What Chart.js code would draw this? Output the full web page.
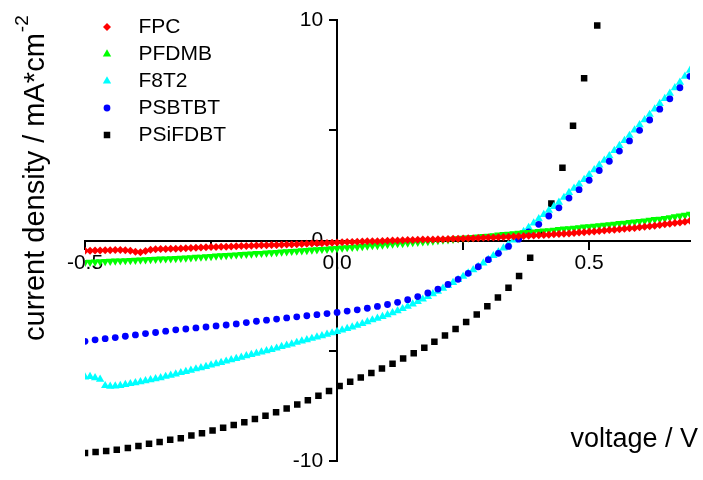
<!DOCTYPE html>
<html>
<head>
<meta charset="utf-8">
<title>J-V curves</title>
<script src="https://cdn.jsdelivr.net/npm/chart.js@4.4.1/dist/chart.umd.min.js"></script>
<style>
  html, body { margin: 0; padding: 0; background: #ffffff; }
  #wrap { width: 703px; height: 480px; }
</style>
</head>
<body>
<div id="wrap"><canvas id="jv" width="703" height="480"></canvas></div>
<script>
// ---- series names ----
const seriesNames = ['FPC', 'PFDMB', 'F8T2', 'PSBTBT', 'PSiFDBT'];

// ---- voltage sweeps (V) ----
const voltageFine = [
  -0.50, -0.49, -0.48, -0.47, -0.46, -0.45, -0.44, -0.43, -0.42, -0.41,
  -0.40, -0.39, -0.38, -0.37, -0.36, -0.35, -0.34, -0.33, -0.32, -0.31,
  -0.30, -0.29, -0.28, -0.27, -0.26, -0.25, -0.24, -0.23, -0.22, -0.21,
  -0.20, -0.19, -0.18, -0.17, -0.16, -0.15, -0.14, -0.13, -0.12, -0.11,
  -0.10, -0.09, -0.08, -0.07, -0.06, -0.05, -0.04, -0.03, -0.02, -0.01,
  0.00, 0.01, 0.02, 0.03, 0.04, 0.05, 0.06, 0.07, 0.08, 0.09,
  0.10, 0.11, 0.12, 0.13, 0.14, 0.15, 0.16, 0.17, 0.18, 0.19,
  0.20, 0.21, 0.22, 0.23, 0.24, 0.25, 0.26, 0.27, 0.28, 0.29,
  0.30, 0.31, 0.32, 0.33, 0.34, 0.35, 0.36, 0.37, 0.38, 0.39,
  0.40, 0.41, 0.42, 0.43, 0.44, 0.45, 0.46, 0.47, 0.48, 0.49,
  0.50, 0.51, 0.52, 0.53, 0.54, 0.55, 0.56, 0.57, 0.58, 0.59,
  0.60, 0.61, 0.62, 0.63, 0.64, 0.65, 0.66, 0.67, 0.68, 0.69,
  0.70
];
const voltageCoarse = [
  -0.50, -0.48, -0.46, -0.44, -0.42, -0.40, -0.38, -0.36, -0.34, -0.32,
  -0.30, -0.28, -0.26, -0.24, -0.22, -0.20, -0.18, -0.16, -0.14, -0.12,
  -0.10, -0.08, -0.06, -0.04, -0.02, 0.00, 0.02, 0.04, 0.06, 0.08,
  0.10, 0.12, 0.14, 0.16, 0.18, 0.20, 0.22, 0.24, 0.26, 0.28,
  0.30, 0.32, 0.34, 0.36, 0.38, 0.40, 0.42, 0.44, 0.46, 0.48,
  0.50, 0.52, 0.54, 0.56, 0.58, 0.60, 0.62, 0.64, 0.66, 0.68,
  0.70
];
const voltageSiF = [
  -0.500, -0.479, -0.458, -0.437, -0.415, -0.394, -0.373, -0.352, -0.331, -0.310,
  -0.289, -0.268, -0.247, -0.226, -0.205, -0.184, -0.163, -0.142, -0.121, -0.100,
  -0.079, -0.058, -0.037, -0.016, 0.005, 0.026, 0.047, 0.068, 0.089, 0.110,
  0.131, 0.152, 0.173, 0.193, 0.214, 0.235, 0.256, 0.277, 0.298, 0.319,
  0.340, 0.361, 0.383, 0.404, 0.425, 0.447, 0.468, 0.490, 0.516
];

// ---- current densities (mA/cm^2) ----
const currentFPC = [
  -0.45, -0.45, -0.44, -0.44, -0.43, -0.43, -0.42, -0.42, -0.43, -0.46,
  -0.50, -0.52, -0.47, -0.41, -0.39, -0.38, -0.38, -0.37, -0.36, -0.35,
  -0.34, -0.33, -0.32, -0.31, -0.30, -0.29, -0.28, -0.27, -0.27, -0.26,
  -0.25, -0.24, -0.24, -0.23, -0.22, -0.21, -0.21, -0.20, -0.19, -0.18,
  -0.17, -0.17, -0.16, -0.15, -0.14, -0.13, -0.12, -0.11, -0.10, -0.09,
  -0.08, -0.07, -0.06, -0.06, -0.05, -0.04, -0.03, -0.02, -0.02, -0.01,
  0.00, 0.01, 0.01, 0.02, 0.03, 0.03, 0.04, 0.05, 0.05, 0.06,
  0.07, 0.07, 0.08, 0.09, 0.09, 0.10, 0.11, 0.11, 0.12, 0.13,
  0.14, 0.15, 0.16, 0.17, 0.18, 0.19, 0.20, 0.21, 0.22, 0.23,
  0.25, 0.26, 0.27, 0.29, 0.30, 0.32, 0.33, 0.35, 0.37, 0.38,
  0.40, 0.42, 0.44, 0.46, 0.48, 0.50, 0.52, 0.54, 0.56, 0.58,
  0.61, 0.63, 0.66, 0.68, 0.71, 0.74, 0.77, 0.80, 0.83, 0.86,
  0.90
];
const currentPFDMB = [
  -0.98, -0.97, -0.96, -0.95, -0.94, -0.93, -0.92, -0.91, -0.90, -0.89,
  -0.88, -0.87, -0.86, -0.85, -0.84, -0.83, -0.82, -0.81, -0.80, -0.79,
  -0.78, -0.77, -0.75, -0.74, -0.72, -0.71, -0.69, -0.68, -0.67, -0.65,
  -0.64, -0.62, -0.61, -0.60, -0.58, -0.57, -0.55, -0.54, -0.53, -0.51,
  -0.50, -0.48, -0.47, -0.45, -0.44, -0.42, -0.41, -0.39, -0.38, -0.36,
  -0.35, -0.33, -0.31, -0.30, -0.28, -0.26, -0.24, -0.22, -0.21, -0.19,
  -0.17, -0.15, -0.13, -0.12, -0.10, -0.08, -0.07, -0.05, -0.03, -0.01,
  0.01, 0.03, 0.05, 0.07, 0.09, 0.11, 0.13, 0.15, 0.17, 0.19,
  0.21, 0.23, 0.26, 0.28, 0.30, 0.32, 0.34, 0.36, 0.38, 0.40,
  0.42, 0.44, 0.46, 0.48, 0.51, 0.53, 0.55, 0.57, 0.59, 0.62,
  0.64, 0.66, 0.68, 0.71, 0.73, 0.75, 0.78, 0.80, 0.83, 0.85,
  0.88, 0.90, 0.93, 0.96, 0.98, 1.01, 1.05, 1.09, 1.12, 1.16,
  1.20
];
const currentF8T2 = [
  -6.18, -6.16, -6.21, -6.28, -6.57, -6.60, -6.59, -6.56, -6.52, -6.48,
  -6.44, -6.39, -6.35, -6.30, -6.26, -6.21, -6.15, -6.10, -6.04, -5.98,
  -5.93, -5.87, -5.81, -5.76, -5.70, -5.64, -5.58, -5.52, -5.46, -5.40,
  -5.34, -5.28, -5.22, -5.16, -5.10, -5.05, -4.99, -4.93, -4.87, -4.80,
  -4.74, -4.68, -4.61, -4.55, -4.49, -4.43, -4.37, -4.31, -4.24, -4.18,
  -4.12, -4.05, -3.98, -3.91, -3.84, -3.76, -3.68, -3.59, -3.52, -3.44,
  -3.36, -3.27, -3.18, -3.08, -2.98, -2.87, -2.76, -2.65, -2.53, -2.41,
  -2.29, -2.16, -2.03, -1.90, -1.76, -1.62, -1.47, -1.32, -1.17, -1.01,
  -0.85, -0.68, -0.51, -0.33, -0.15, 0.03, 0.22, 0.41, 0.60, 0.80,
  0.99, 1.18, 1.37, 1.55, 1.74, 1.96, 2.18, 2.37, 2.56, 2.77,
  2.99, 3.21, 3.43, 3.64, 3.85, 4.08, 4.31, 4.54, 4.77, 5.01,
  5.25, 5.48, 5.72, 5.96, 6.21, 6.44, 6.68, 6.93, 7.18, 7.45,
  7.72
];
const currentPSBTBT = [
  -4.56, -4.49, -4.44, -4.39, -4.33, -4.27, -4.21, -4.16, -4.10, -4.04,
  -4.00, -3.95, -3.91, -3.86, -3.82, -3.77, -3.71, -3.65, -3.60, -3.55,
  -3.50, -3.45, -3.40, -3.35, -3.30, -3.25, -3.19, -3.13, -3.06, -2.98,
  -2.89, -2.79, -2.67, -2.53, -2.37, -2.19, -1.98, -1.75, -1.48, -1.18,
  -0.86, -0.57, -0.26, 0.07, 0.40, 0.74, 1.12, 1.49, 1.93, 2.31,
  2.74, 3.18, 3.60, 4.06, 4.52, 5.00, 5.47, 5.96, 6.43, 6.93,
  7.45
];
const currentPSiFDBT = [
  -9.62, -9.57, -9.53, -9.47, -9.39, -9.30, -9.20, -9.12, -9.02, -8.95,
  -8.83, -8.72, -8.60, -8.48, -8.35, -8.23, -8.08, -7.93, -7.77, -7.60,
  -7.42, -7.23, -7.03, -6.81, -6.58, -6.39, -6.20, -6.00, -5.79, -5.57,
  -5.34, -5.10, -4.85, -4.58, -4.30, -4.00, -3.68, -3.34, -2.97, -2.57,
  -2.13, -1.60, -0.77, 0.37, 1.68, 3.30, 5.21, 7.36, 9.75
];

// ---- axes ----
const xTickValues = [-0.5, -0.25, 0, 0.25, 0.5];
const xTickLabels = ['-0.5', '', '0.0', '', '0.5'];
const yTickValues = [-10, -5, 0, 5, 10];
const yTickLabels = ['-10', '', '0', '', '10'];
const xTitle = 'voltage / V';
const yTitle = 'current density / mA*cm';
const yTitleSup = '-2';

// ---- marker styling ----
const seriesColors = ['#ff0000', '#00ff00', '#00ffff', '#0000ff', '#000000'];
const seriesMarkers = ['rectRot', 'triangle', 'triangle', 'circle', 'rect'];
const seriesRotation = [0, 180, 0, 0, 0];
const seriesRadius = [4.0, 4.8, 4.8, 3.4, 4.6];
const seriesOrder = [0, 1, 3, 2, 4]; // lower value is painted on top

const FONT = "'Liberation Sans', Arial, Helvetica, sans-serif";

const seriesX = [voltageFine, voltageFine, voltageFine, voltageCoarse, voltageSiF];
const seriesY = [currentFPC, currentPFDMB, currentF8T2, currentPSBTBT, currentPSiFDBT];

const toPoints = (xs, ys) => xs.map((x, i) => ({ x: x, y: ys[i] }));

const datasets = seriesNames.map((name, i) => ({
  label: name,
  data: toPoints(seriesX[i], seriesY[i]),
  showLine: false,
  pointStyle: seriesMarkers[i],
  pointRotation: seriesRotation[i],
  pointRadius: seriesRadius[i],
  pointHoverRadius: seriesRadius[i],
  pointBorderWidth: 0,
  backgroundColor: seriesColors[i],
  borderColor: seriesColors[i],
  order: seriesOrder[i]
}));

// Small canvases carrying each legend symbol, so the swatch keeps its shape
// while the legend row reserves a wider slot before the text.
function makeLegendSymbol(i) {
  const c = document.createElement('canvas');
  c.width = 16; c.height = 16;
  const g = c.getContext('2d');
  g.fillStyle = seriesColors[i];
  g.strokeStyle = seriesColors[i];
  Chart.helpers.drawPoint(g, {
    pointStyle: seriesMarkers[i],
    rotation: seriesRotation[i],
    radius: seriesRadius[i],
    borderWidth: 0
  }, 8, 8);
  return c;
}
const legendSymbols = seriesNames.map((_, i) => makeLegendSymbol(i));

// Legend sits in the upper-left corner of the plot.
const legendCorner = {
  id: 'legendCorner',
  afterLayout(chart) {
    const lg = chart.legend;
    if (!lg) return;
    lg.left = 80;
    lg.top = 10.5;
    lg.right = 320;
    lg.bottom = 300;
  }
};

// Value labels of the vertical axis sit to the left of its tick marks.
const yLabelsLeftOfTicks = {
  id: 'yLabelsLeftOfTicks',
  beforeDraw(chart) {
    const scale = chart.scales.y;
    const items = scale.getLabelItems(chart.chartArea);
    items.forEach(it => { it.options.translation[0] -= 14; });
  }
};

// Axis titles: x title bottom-right, y title rotated along the left edge.
const axisTitles = {
  id: 'axisTitles',
  afterDraw(chart) {
    const ctx = chart.ctx;
    ctx.save();
    ctx.fillStyle = '#000000';
    ctx.font = '27px ' + FONT;
    ctx.textAlign = 'right';
    ctx.textBaseline = 'alphabetic';
    ctx.fillText(xTitle, 698, 447);

    ctx.translate(44, 341);
    ctx.rotate(-Math.PI / 2);
    ctx.textAlign = 'left';
    ctx.font = '29px ' + FONT;
    ctx.fillText(yTitle, 0, 0);
    const w = ctx.measureText(yTitle).width;
    ctx.font = '19px ' + FONT;
    ctx.fillText(yTitleSup, w + 1, -16);
    ctx.restore();
  }
};

new Chart(document.getElementById('jv'), {
  type: 'scatter',
  data: { datasets: datasets },
  options: {
    responsive: false,
    animation: false,
    devicePixelRatio: 1,
    layout: { padding: { left: 85, right: 13, top: 20, bottom: 14 } },
    plugins: {
      tooltip: { enabled: false },
      title: { display: false },
      legend: {
        display: true,
        position: 'chartArea',
        align: 'start',
        labels: {
          usePointStyle: true,
          pointStyleWidth: 42,
          boxHeight: 8,
          padding: 6,
          color: '#000000',
          font: { family: FONT, size: 21 },
          sort: (a, b) => a.datasetIndex - b.datasetIndex,
          generateLabels(chart) {
            const items = Chart.defaults.plugins.legend.labels.generateLabels(chart);
            items.forEach(it => {
              it.pointStyle = legendSymbols[it.datasetIndex];
              it.lineWidth = 0;
            });
            return items;
          }
        }
      }
    },
    scales: {
      x: {
        type: 'linear',
        min: -0.5,
        max: 0.7,
        position: { y: 0 },
        afterBuildTicks(scale) { scale.ticks = xTickValues.map(v => ({ value: v })); },
        border: { display: true, color: '#000000', width: 2 },
        grid: { drawOnChartArea: false, drawTicks: true, tickLength: 8, color: '#000000', lineWidth: 2 },
        ticks: {
          color: '#000000',
          font: { family: FONT, size: 21 },
          padding: 2,
          maxRotation: 0,
          autoSkip: false,
          callback: (v, i) => xTickLabels[i]
        }
      },
      y: {
        type: 'linear',
        min: -10,
        max: 10,
        position: { x: 0 },
        afterBuildTicks(scale) { scale.ticks = yTickValues.map(v => ({ value: v })); },
        border: { display: true, color: '#000000', width: 2 },
        grid: { drawOnChartArea: false, drawTicks: true, tickLength: 7, color: '#000000', lineWidth: 2 },
        ticks: {
          color: '#000000',
          font: { family: FONT, size: 21 },
          padding: 6,
          autoSkip: false,
          callback: (v, i) => yTickLabels[i]
        }
      }
    }
  },
  plugins: [legendCorner, yLabelsLeftOfTicks, axisTitles]
});
</script>
</body>
</html>
